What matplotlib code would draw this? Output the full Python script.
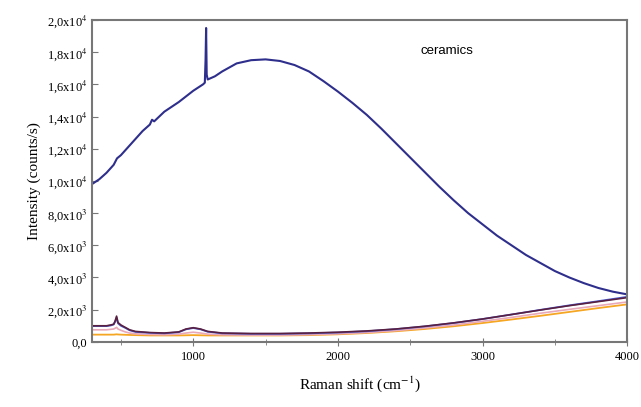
import numpy as np
import matplotlib.pyplot as plt

plt.rcParams['font.family'] = 'Liberation Serif'
plt.rcParams['mathtext.fontset'] = 'stix'

# main spectrum (ceramics, high background)
x_main = [300, 350, 400, 450, 473, 500, 550, 600, 650, 700, 715, 730, 800, 900, 1000,
          1068, 1080, 1085, 1089, 1093, 1100, 1150, 1200, 1300, 1400, 1500, 1600, 1700,
          1800, 1900, 2000, 2100, 2200, 2300, 2400, 2500, 2600, 2700, 2800, 2900, 3000,
          3100, 3200, 3300, 3400, 3500, 3600, 3700, 3800, 3900, 4000]
y_main = [9.8, 10.1, 10.5, 11.0, 11.4, 11.6, 12.1, 12.6, 13.1, 13.5, 13.8, 13.7, 14.3, 14.9, 15.6,
          16.0, 16.1, 17.5, 19.5, 16.6, 16.3, 16.5, 16.8, 17.3, 17.5, 17.55, 17.45, 17.2,
          16.8, 16.2, 15.55, 14.85, 14.1, 13.25, 12.35, 11.45, 10.55, 9.65, 8.8, 8.0, 7.3,
          6.6, 6.0, 5.4, 4.9, 4.4, 4.0, 3.65, 3.35, 3.12, 2.95]

# low spectra
x_low = [300, 350, 400, 430, 450, 460, 470, 480, 500, 530, 560, 600, 700, 800, 900, 950,
         1000, 1050, 1100, 1200, 1400, 1600, 1800, 2000, 2200, 2400, 2600, 2800, 3000,
         3200, 3400, 3600, 3800, 4000]
y_red = [1.0, 1.0, 1.0, 1.05, 1.1, 1.3, 1.6, 1.2, 1.05, 0.9, 0.75, 0.65, 0.58, 0.55, 0.62, 0.8,
         0.88, 0.8, 0.65, 0.55, 0.52, 0.52, 0.55, 0.6, 0.68, 0.8, 0.97, 1.18, 1.42,
         1.7, 1.98, 2.25, 2.5, 2.75]
y_blue = [0.98, 0.98, 0.98, 1.02, 1.08, 1.25, 1.5, 1.15, 1.0, 0.87, 0.72, 0.62, 0.56, 0.53, 0.6, 0.78,
          0.86, 0.78, 0.63, 0.53, 0.5, 0.5, 0.53, 0.58, 0.66, 0.79, 0.96, 1.17, 1.42,
          1.7, 1.99, 2.27, 2.53, 2.8]
y_pink = [0.75, 0.75, 0.75, 0.78, 0.8, 0.85, 0.9, 0.8, 0.72, 0.62, 0.55, 0.5, 0.46, 0.44, 0.48, 0.55,
          0.6, 0.55, 0.48, 0.44, 0.42, 0.42, 0.45, 0.5, 0.58, 0.7, 0.86, 1.05, 1.28,
          1.52, 1.78, 2.02, 2.25, 2.48]
y_orange = [0.45, 0.45, 0.45, 0.45, 0.45, 0.46, 0.47, 0.46, 0.45, 0.44, 0.43, 0.42, 0.4, 0.4, 0.4, 0.41,
            0.42, 0.41, 0.4, 0.4, 0.4, 0.4, 0.42, 0.47, 0.55, 0.66, 0.8, 0.97, 1.17,
            1.39, 1.62, 1.86, 2.1, 2.33]

yticks = [0, 2000, 4000, 6000, 8000, 10000, 12000, 14000, 16000, 18000, 20000]
ylabels = ['0,0', r'2,0x10$^3$', r'4,0x10$^3$', r'6,0x10$^3$', r'8,0x10$^3$', r'1,0x10$^4$',
           r'1,2x10$^4$', r'1,4x10$^4$', r'1,6x10$^4$', r'1,8x10$^4$', r'2,0x10$^4$']

fig = plt.figure(figsize=(6.41, 4.07), dpi=100)
ax = fig.add_axes([0.1435, 0.16, 0.835, 0.791])

ax.plot(x_low, np.array(y_orange) * 1000, color='#f5a623', lw=1.3)
ax.plot(x_low, np.array(y_pink) * 1000, color='#e8a8b8', lw=1.2)
ax.plot(x_low, np.array(y_blue) * 1000, color='#4a5ad0', lw=1.3)
ax.plot(x_low, np.array(y_red) * 1000, color='#5a2040', lw=1.2)
ax.plot(x_main, np.array(y_main) * 1000, color='#2e2e8c', lw=1.5)

ax.set_xlim(300, 4000)
ax.set_ylim(0, 20000)
ax.set_xticks([1000, 2000, 3000, 4000])
ax.set_xticks([500, 1500, 2500, 3500], minor=True)
ax.set_yticks(yticks)
ax.set_yticklabels(ylabels)

for s in ax.spines.values():
    s.set_color('#777777')
    s.set_linewidth(1.5)
ax.tick_params(axis='x', which='both', direction='inout', length=6, color='#777777', labelsize=9)
ax.tick_params(axis='x', which='minor', length=4)
ax.tick_params(axis='y', direction='in', length=4, color='#777777', labelsize=9)

ax.text(2757, 18100, 'ceramics', family='Liberation Sans', fontsize=9.5, ha='center', va='center')
ax.set_xlabel(r'Raman shift (cm$^{-1}$)', fontsize=11, labelpad=8)
ax.set_ylabel('Intensity (counts/s)', fontsize=11, labelpad=4)

fig.savefig('out.png', dpi=100)
